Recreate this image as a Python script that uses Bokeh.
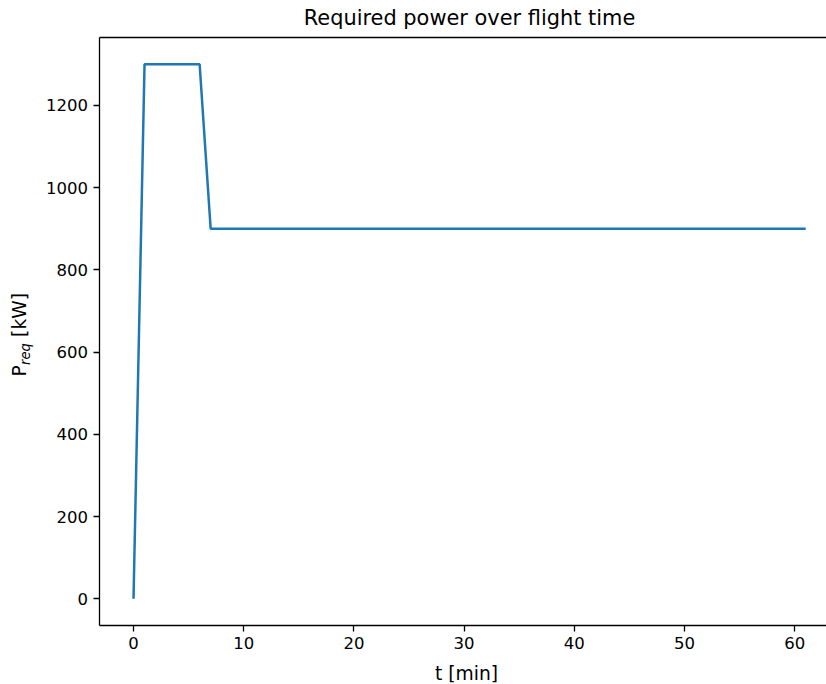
import math
from bokeh.plotting import figure
from bokeh.models import Range1d, FixedTicker, LinearAxis, Label
from bokeh.embed import file_html
from bokeh.resources import INLINE

# ---- data ----
t_min = [0, 1, 6, 7, 61]
p_req_kw = [0, 1300, 1300, 900, 900]
x_ticks = [0, 10, 20, 30, 40, 50, 60]
y_ticks = [0, 200, 400, 600, 800, 1000, 1200]
title_text = "Required power over flight time"
x_label = "t [min]"
y_label_main = "P"
y_label_sub = "req"
y_label_unit = "[kW]"

# axes limits of the original (data range + 5 % margins)
x_lo, x_hi = -3.05, 64.05
y_lo, y_hi = -65, 1365

FONT = "DejaVu Sans"
BLUE = "#1f77b4"
W, H = 826, 684

# pixel geometry of the original axes box
AX_L, AX_T, AX_B = 99.4, 37, 625
sx_per = 11.02                      # px per minute
sy_per = (AX_B - AX_T) / (y_hi - y_lo)

# the Bokeh frame covers the whole canvas so that no text is clipped
X0 = x_lo - AX_L / sx_per
X1 = X0 + W / sx_per
Y0 = y_lo - (H - AX_B) / sy_per
Y1 = y_hi + AX_T / sy_per

p = figure(width=W, height=H, output_backend="svg", toolbar_location=None,
           title=None, x_range=Range1d(X0, X1), y_range=Range1d(Y0, Y1),
           x_axis_location=None, y_axis_location=None,
           min_border_left=0, min_border_right=0, min_border_top=0,
           min_border_bottom=0)

p.background_fill_color = "white"
p.border_fill_color = "white"
p.outline_line_color = None
p.grid.visible = False

def style_axis(ax):
    ax.axis_line_color = "black"
    ax.axis_line_width = 1.3
    ax.major_tick_line_color = "black"
    ax.major_tick_line_width = 1.3
    ax.major_tick_out = 6
    ax.major_tick_in = 0
    ax.minor_tick_line_color = None
    ax.major_label_text_font = FONT
    ax.major_label_text_font_size = "16.5px"
    ax.major_label_text_color = "black"

# bottom axis (spine at the bottom of the original axes box)
xa = LinearAxis(fixed_location=y_lo, bounds=(x_lo, x_hi),
                ticker=FixedTicker(ticks=x_ticks))
style_axis(xa)
xa.major_label_standoff = 5
p.add_layout(xa, "below")

# left axis
ya = LinearAxis(fixed_location=x_lo, bounds=(y_lo, y_hi),
                ticker=FixedTicker(ticks=y_ticks))
style_axis(ya)
ya.major_label_standoff = 6
p.add_layout(ya, "left")

# top spine
ta = LinearAxis(fixed_location=y_hi, bounds=(x_lo, x_hi),
                ticker=FixedTicker(ticks=[]), axis_line_color="black",
                axis_line_width=1.3, major_tick_out=0, major_tick_in=0,
                minor_tick_out=0, minor_tick_in=0,
                major_label_text_font_size="0px", major_label_standoff=0)
p.add_layout(ta, "above")

p.line(t_min, p_req_kw, line_color=BLUE, line_width=2.5)

# texts (screen units relative to the frame's bottom-left corner = canvas)
DESC = 0.236  # baseline correction as fraction of font size

p.add_layout(Label(x=469, y=H - 22.2 + DESC * 20.9, x_units="screen", y_units="screen",
                   text=title_text, text_font=FONT, text_font_size="20.9px",
                   text_color="black", text_align="center",
                   text_baseline="alphabetic"))

p.add_layout(Label(x=466, y=H - 677 + DESC * 18.7, x_units="screen", y_units="screen",
                   text=x_label, text_font=FONT, text_font_size="18.7px",
                   text_color="black", text_align="center",
                   text_baseline="alphabetic"))

ang = math.pi / 2
common = dict(x_units="screen", y_units="screen", angle=ang, text_font=FONT,
              text_color="black", text_baseline="alphabetic", text_align="left")
bx = 23.5 - DESC * 18.7
p.add_layout(Label(x=bx, y=H - 376, text=y_label_main,
                   text_font_size="18.7px", **common))
p.add_layout(Label(x=bx + 5.5, y=H - 364.5, text=y_label_sub,
                   text_font_size="13.2px", text_font_style="italic", **common))
p.add_layout(Label(x=bx, y=H - 336.4, text=y_label_unit,
                   text_font_size="18.7px", **common))

open("out.html", "w").write(file_html(p, INLINE))
